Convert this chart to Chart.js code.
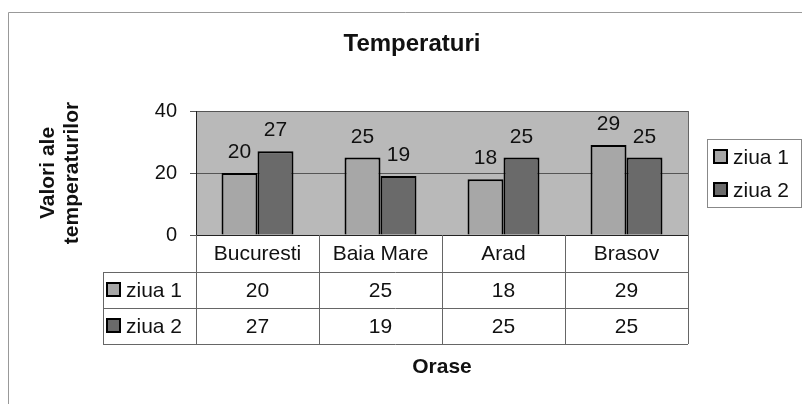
<!DOCTYPE html>
<html>
<head>
<meta charset="utf-8">
<title>Temperaturi</title>
<script src="https://cdn.jsdelivr.net/npm/chart.js@4.4.1/dist/chart.umd.min.js"></script>
<style>
  html, body { margin: 0; padding: 0; background: #fff; }
  #wrap { width: 802px; height: 404px; }
</style>
</head>
<body>
<div id="wrap"><canvas id="tempChart" width="802" height="404"></canvas></div>
<script>
const orase = ['Bucuresti', 'Baia Mare', 'Arad', 'Brasov'];
const serii = ['ziua 1', 'ziua 2'];
const ziua1 = [20, 25, 18, 29];
const ziua2 = [27, 19, 25, 25];
const yTicks = [0, 20, 40];
const titlu = 'Temperaturi';

const FONT = '"Liberation Sans", Arial, sans-serif';
const INK = '#111';
const LINE = '#666';
const ROW_H = 36;      // inaltimea unui rand din tabelul de date
const LABEL_ROW = 37;  // randul cu numele oraselor

function swatch(ctx, x, y, color) {
    ctx.fillStyle = color;
    ctx.fillRect(x, y, 13, 13);
    ctx.strokeStyle = '#000';
    ctx.lineWidth = 2;
    ctx.strokeRect(x, y, 13, 13);
}

// chenarul graficului, titlul si fundalul gri al zonei de desen
const plotBg = {
    id: 'plotBg',
    beforeDraw(chart) {
        const {ctx, chartArea: a} = chart;
        ctx.save();
        ctx.strokeStyle = '#999';
        ctx.lineWidth = 1;
        ctx.beginPath();
        ctx.moveTo(8.5, 404);
        ctx.lineTo(8.5, 12.5);
        ctx.lineTo(802, 12.5);
        ctx.stroke();
        ctx.fillStyle = '#b9b9b9';
        ctx.fillRect(a.left, a.top, a.right - a.left, a.bottom - a.top);
        ctx.font = 'bold 24px ' + FONT;
        ctx.fillStyle = INK;
        ctx.textAlign = 'center';
        ctx.textBaseline = 'middle';
        ctx.fillText(titlu, 412, 44);
        ctx.restore();
    }
};

// valorile deasupra barelor
const valueLabels = {
    id: 'valueLabels',
    afterDatasetsDraw(chart) {
        const ctx = chart.ctx;
        ctx.save();
        ctx.font = '21px ' + FONT;
        ctx.fillStyle = INK;
        ctx.textAlign = 'center';
        ctx.textBaseline = 'alphabetic';
        chart.data.datasets.forEach((ds, i) => {
            chart.getDatasetMeta(i).data.forEach((bar, j) => {
                ctx.fillText(ds.data[j], bar.x, bar.y - 15);
            });
        });
        ctx.restore();
    }
};

// tabelul de date sub axa X
const dataTable = {
    id: 'dataTable',
    afterDraw(chart) {
        const {ctx, chartArea: a, scales: {x}} = chart;
        const ds = chart.data.datasets;
        const n = chart.data.labels.length;
        const cw = (a.right - a.left) / n;
        const rowTop = a.bottom + LABEL_ROW;
        const tableLeft = 103;
        const tableBottom = rowTop + ds.length * ROW_H;

        ctx.save();
        ctx.strokeStyle = LINE;
        ctx.lineWidth = 1;
        ctx.beginPath();
        for (let i = 0; i <= n; i++) {
            const px = Math.round(x.getPixelForValue(i) - cw / 2) + 0.5;
            ctx.moveTo(px, i === n ? a.top : a.bottom);
            ctx.lineTo(px, tableBottom);
        }
        ctx.moveTo(tableLeft + 0.5, rowTop);
        ctx.lineTo(tableLeft + 0.5, tableBottom);
        for (let r = 0; r <= ds.length; r++) {
            const py = Math.round(rowTop + r * ROW_H) + 0.5;
            ctx.moveTo(tableLeft, py);
            ctx.lineTo(a.right, py);
        }
        ctx.stroke();

        ctx.font = '21px ' + FONT;
        ctx.fillStyle = INK;
        ctx.textBaseline = 'middle';
        ds.forEach((d, r) => {
            const cy = rowTop + r * ROW_H + ROW_H / 2;
            swatch(ctx, tableLeft + 4, cy - 7, d.backgroundColor);
            ctx.fillStyle = INK;
            ctx.textAlign = 'left';
            ctx.fillText(d.label, tableLeft + 23, cy + 1);
            ctx.textAlign = 'center';
            d.data.forEach((v, j) => {
                ctx.fillText(v, x.getPixelForValue(j), cy + 1);
            });
        });
        ctx.restore();
    }
};

// legenda din dreapta
const legendBox = {
    id: 'legendBox',
    afterDraw(chart) {
        const {ctx, chartArea: a} = chart;
        const ds = chart.data.datasets;
        const bx = a.right + 19, bw = 94, bh = 68;
        const by = Math.round((a.top + a.bottom) / 2 - bh / 2);
        ctx.save();
        ctx.strokeStyle = '#888';
        ctx.lineWidth = 1;
        ctx.strokeRect(bx + 0.5, by + 0.5, bw, bh);
        ctx.font = '21px ' + FONT;
        ctx.textBaseline = 'middle';
        ctx.textAlign = 'left';
        ds.forEach((d, i) => {
            const cy = by + 18 + i * 33;
            swatch(ctx, bx + 7, cy - 7, d.backgroundColor);
            ctx.fillStyle = INK;
            ctx.fillText(d.label, bx + 26, cy + 1);
        });
        ctx.restore();
    }
};

new Chart(document.getElementById('tempChart'), {
    type: 'bar',
    data: {
        labels: orase,
        datasets: [
            { label: serii[0], data: ziua1, backgroundColor: '#a7a7a7', borderColor: '#000', borderWidth: 2 },
            { label: serii[1], data: ziua2, backgroundColor: '#6a6a6a', borderColor: '#000', borderWidth: 2 }
        ]
    },
    options: {
        responsive: false,
        animation: false,
        layout: { padding: { left: 33, right: 114, top: 111, bottom: 19 } },
        datasets: { bar: { categoryPercentage: 0.585, barPercentage: 1 } },
        plugins: {
            legend: { display: false },
            tooltip: { enabled: false },
            title: { display: false }
        },
        scales: {
            x: {
                grid: { display: false, drawTicks: false },
                border: { display: true, color: '#222', width: 1 },
                ticks: { color: INK, font: { size: 21, family: FONT }, padding: 7 },
                title: {
                    display: true,
                    text: 'Orase',
                    color: INK,
                    font: { size: 21, weight: 'bold', family: FONT, lineHeight: 1.2 },
                    padding: { top: 0, bottom: 5 }
                },
                afterFit: s => { s.height = 150; }
            },
            y: {
                min: 0,
                max: 40,
                afterBuildTicks: s => { s.ticks = yTicks.map(v => ({ value: v })); },
                ticks: { color: INK, font: { size: 20, family: FONT }, padding: 13 },
                grid: { color: '#555', lineWidth: 1, tickLength: 6 },
                border: { color: '#222', width: 1 },
                title: {
                    display: true,
                    text: ['Valori ale', 'temperaturilor'],
                    color: INK,
                    font: { size: 21, weight: 'bold', family: FONT, lineHeight: 1.15 },
                    padding: { top: 3, bottom: 0 }
                },
                afterFit: s => { s.width = 163; }
            }
        }
    },
    plugins: [plotBg, valueLabels, dataTable, legendBox]
});
</script>
</body>
</html>
